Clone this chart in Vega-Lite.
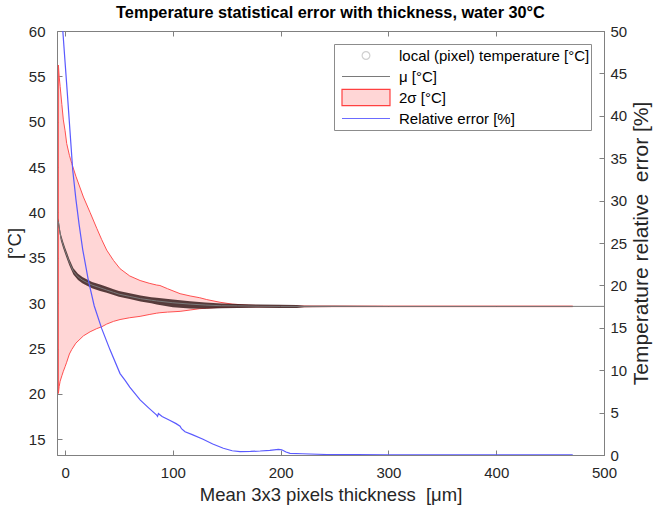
{
  "$schema": "https://vega.github.io/schema/vega-lite/v6.json",
  "width": 547,
  "height": 424,
  "autosize": "none",
  "padding": {"left": 57, "top": 31, "right": 53, "bottom": 58},
  "background": "white",
  "title": {"text": "Temperature statistical error with thickness, water 30°C", "fontSize": 16.3, "fontWeight": "bold", "color": "#000000", "offset": 3},
  "config": {
    "font": "Liberation Sans",
    "view": {"stroke": "#808080", "strokeWidth": 1},
    "axis": {"domainColor": "#808080", "tickColor": "#808080", "labelColor": "#262626", "titleColor": "#262626", "labelFontSize": 15, "titleFontSize": 18.5, "titleFontWeight": "normal", "grid": false, "tickSize": -5, "labelFlush": false}
  },
  "datasets": {
    "band": [
      {"x": -6.2, "upper": 56.25, "lower": 20.05},
      {"x": -5.5, "upper": 55.0, "lower": 20.8},
      {"x": -4.6, "upper": 53.9, "lower": 21.4},
      {"x": -3, "upper": 51.9, "lower": 22.0},
      {"x": -1.6, "upper": 50.2, "lower": 22.5},
      {"x": 0, "upper": 49.0, "lower": 23.0},
      {"x": 1.5, "upper": 47.6, "lower": 23.5},
      {"x": 4, "upper": 46.3, "lower": 24.4},
      {"x": 6.2, "upper": 45.4, "lower": 24.9},
      {"x": 10, "upper": 44.0, "lower": 25.6},
      {"x": 17, "upper": 41.7, "lower": 26.4},
      {"x": 23.2, "upper": 40.0, "lower": 26.85},
      {"x": 29.4, "upper": 38.25, "lower": 27.2},
      {"x": 34, "upper": 37.0, "lower": 27.4},
      {"x": 38.6, "upper": 35.85, "lower": 27.7},
      {"x": 45, "upper": 34.7, "lower": 28.0},
      {"x": 51, "upper": 33.8, "lower": 28.2},
      {"x": 60, "upper": 33.0, "lower": 28.4},
      {"x": 69.6, "upper": 32.5, "lower": 28.55},
      {"x": 78, "upper": 32.2, "lower": 28.75},
      {"x": 85, "upper": 32.0, "lower": 28.9},
      {"x": 88, "upper": 31.95, "lower": 28.95},
      {"x": 95, "upper": 31.6, "lower": 29.02},
      {"x": 106.7, "upper": 31.05, "lower": 29.1},
      {"x": 116, "upper": 30.8, "lower": 29.25},
      {"x": 125, "upper": 30.6, "lower": 29.4},
      {"x": 131.4, "upper": 30.4, "lower": 29.45},
      {"x": 143.8, "upper": 30.1, "lower": 29.55},
      {"x": 155, "upper": 29.9, "lower": 29.58},
      {"x": 170, "upper": 29.78, "lower": 29.6},
      {"x": 190, "upper": 29.72, "lower": 29.6},
      {"x": 210, "upper": 29.7, "lower": 29.6},
      {"x": 230, "upper": 29.68, "lower": 29.62},
      {"x": 300, "upper": 29.68, "lower": 29.62},
      {"x": 400, "upper": 29.68, "lower": 29.62},
      {"x": 471, "upper": 29.68, "lower": 29.62}
    ],
    "scatter": [
      {"x": -6.2, "sc_lo": 38.65, "sc_hi": 39.35},
      {"x": -5, "sc_lo": 37.65, "sc_hi": 38.35},
      {"x": -4, "sc_lo": 36.95, "sc_hi": 37.65},
      {"x": -2, "sc_lo": 36.15, "sc_hi": 36.85},
      {"x": 0, "sc_lo": 35.45, "sc_hi": 36.15},
      {"x": 2, "sc_lo": 34.8, "sc_hi": 35.5},
      {"x": 4, "sc_lo": 34.15, "sc_hi": 34.85},
      {"x": 7.7, "sc_lo": 33.15, "sc_hi": 33.85},
      {"x": 12, "sc_lo": 32.55, "sc_hi": 33.25},
      {"x": 16, "sc_lo": 32.2, "sc_hi": 32.9},
      {"x": 20, "sc_lo": 31.95, "sc_hi": 32.65},
      {"x": 25, "sc_lo": 31.65, "sc_hi": 32.35},
      {"x": 32.5, "sc_lo": 31.35, "sc_hi": 32.05},
      {"x": 38.6, "sc_lo": 31.15, "sc_hi": 31.8},
      {"x": 45, "sc_lo": 30.9, "sc_hi": 31.55},
      {"x": 50, "sc_lo": 30.7, "sc_hi": 31.35},
      {"x": 60, "sc_lo": 30.45, "sc_hi": 31.1},
      {"x": 70, "sc_lo": 30.2, "sc_hi": 30.85},
      {"x": 80, "sc_lo": 30.0, "sc_hi": 30.65},
      {"x": 85, "sc_lo": 29.85, "sc_hi": 30.6},
      {"x": 100, "sc_lo": 29.55, "sc_hi": 30.4},
      {"x": 116, "sc_lo": 29.42, "sc_hi": 30.22},
      {"x": 130, "sc_lo": 29.4, "sc_hi": 30.08},
      {"x": 145, "sc_lo": 29.45, "sc_hi": 29.97},
      {"x": 160, "sc_lo": 29.48, "sc_hi": 29.9},
      {"x": 180, "sc_lo": 29.5, "sc_hi": 29.85},
      {"x": 200, "sc_lo": 29.48, "sc_hi": 29.82},
      {"x": 215, "sc_lo": 29.48, "sc_hi": 29.8},
      {"x": 222, "sc_lo": 29.55, "sc_hi": 29.72},
      {"x": 250, "sc_lo": 29.58, "sc_hi": 29.71},
      {"x": 300, "sc_lo": 29.6, "sc_hi": 29.7},
      {"x": 400, "sc_lo": 29.6, "sc_hi": 29.7},
      {"x": 471, "sc_lo": 29.6, "sc_hi": 29.7}
    ],
    "mu": [
      {"x": -6.2, "mean": 39.0},
      {"x": -5, "mean": 38.0},
      {"x": -4, "mean": 37.3},
      {"x": -2, "mean": 36.5},
      {"x": 0, "mean": 35.8},
      {"x": 2, "mean": 35.15},
      {"x": 4, "mean": 34.5},
      {"x": 7.7, "mean": 33.5},
      {"x": 12, "mean": 32.9},
      {"x": 16, "mean": 32.55},
      {"x": 20, "mean": 32.3},
      {"x": 25, "mean": 32.0},
      {"x": 32.5, "mean": 31.7},
      {"x": 38.6, "mean": 31.45},
      {"x": 45, "mean": 31.2},
      {"x": 50, "mean": 31.0},
      {"x": 60, "mean": 30.75},
      {"x": 70, "mean": 30.5},
      {"x": 80, "mean": 30.33},
      {"x": 85, "mean": 30.25},
      {"x": 100, "mean": 30.05},
      {"x": 116, "mean": 29.9},
      {"x": 130, "mean": 29.8},
      {"x": 145, "mean": 29.72},
      {"x": 160, "mean": 29.7},
      {"x": 180, "mean": 29.67},
      {"x": 200, "mean": 29.65},
      {"x": 300, "mean": 29.65},
      {"x": 400, "mean": 29.65},
      {"x": 500, "mean": 29.65}
    ],
    "err": [
      {"x": -6.2, "err": 57.5},
      {"x": -4, "err": 53.6},
      {"x": -2.1, "err": 50.0},
      {"x": 0, "err": 46.3},
      {"x": 2, "err": 42.8},
      {"x": 4, "err": 39.2},
      {"x": 7.1, "err": 33.6},
      {"x": 10, "err": 30.2},
      {"x": 13, "err": 27.2},
      {"x": 16.4, "err": 24.2},
      {"x": 21.6, "err": 20.6},
      {"x": 27, "err": 17.6},
      {"x": 34, "err": 14.9},
      {"x": 41.7, "err": 12.4},
      {"x": 51, "err": 9.6},
      {"x": 55.7, "err": 8.8},
      {"x": 60, "err": 8.0},
      {"x": 69.6, "err": 6.5},
      {"x": 78, "err": 5.5},
      {"x": 85, "err": 4.7},
      {"x": 85.8, "err": 4.55},
      {"x": 86.6, "err": 4.9},
      {"x": 90, "err": 4.55},
      {"x": 97, "err": 4.1},
      {"x": 103, "err": 3.7},
      {"x": 106.7, "err": 3.4},
      {"x": 108, "err": 3.1},
      {"x": 111.3, "err": 2.75},
      {"x": 118, "err": 2.4},
      {"x": 128, "err": 1.85},
      {"x": 137, "err": 1.3},
      {"x": 146.8, "err": 0.8},
      {"x": 155, "err": 0.5},
      {"x": 162.3, "err": 0.4},
      {"x": 172, "err": 0.42},
      {"x": 181, "err": 0.47},
      {"x": 190, "err": 0.55},
      {"x": 197.9, "err": 0.67},
      {"x": 201, "err": 0.62},
      {"x": 205, "err": 0.35},
      {"x": 208.7, "err": 0.2},
      {"x": 220, "err": 0.15},
      {"x": 242.7, "err": 0.06},
      {"x": 270, "err": 0.04},
      {"x": 300, "err": 0.03},
      {"x": 350, "err": 0.03},
      {"x": 400, "err": 0.03},
      {"x": 450, "err": 0.03},
      {"x": 471, "err": 0.03}
    ]
  },
  "layer": [
    {
      "layer": [
        {
          "data": {"name": "band"},
          "mark": {"type": "area", "fill": "#ffd6d6", "stroke": "#ff5050", "strokeWidth": 1, "clip": true},
          "encoding": {
            "x": {"field": "x", "type": "quantitative", "scale": {"domain": [-7.5, 500], "nice": false, "zero": false}, "axis": {"values": [0, 100, 200, 300, 400, 500], "title": "Mean 3x3 pixels thickness\u00a0 [μm]", "labelPadding": 15, "titlePadding": 5}},
            "y": {"field": "upper", "type": "quantitative", "scale": {"domain": [13.27, 60], "nice": false, "zero": false}, "axis": {"values": [15, 20, 25, 30, 35, 40, 45, 50, 55, 60], "title": "[°C]", "labelPadding": 17, "titlePadding": 4}},
            "y2": {"field": "lower"}
          }
        },
        {
          "data": {"name": "scatter"},
          "mark": {"type": "area", "fill": "#3a2020", "opacity": 0.85, "clip": true},
          "encoding": {
            "x": {"field": "x", "type": "quantitative", "scale": {"domain": [-7.5, 500], "nice": false, "zero": false}, "axis": {"values": [0, 100, 200, 300, 400, 500], "title": "Mean 3x3 pixels thickness\u00a0 [μm]", "labelPadding": 15, "titlePadding": 5}},
            "y": {"field": "sc_lo", "type": "quantitative", "scale": {"domain": [13.27, 60], "nice": false, "zero": false}, "axis": {"values": [15, 20, 25, 30, 35, 40, 45, 50, 55, 60], "title": "[°C]", "labelPadding": 17, "titlePadding": 4}},
            "y2": {"field": "sc_hi"}
          }
        },
        {
          "data": {"name": "mu"},
          "mark": {"type": "line", "strokeWidth": 1, "clip": true},
          "encoding": {
            "x": {"field": "x", "type": "quantitative", "scale": {"domain": [-7.5, 500], "nice": false, "zero": false}, "axis": {"values": [0, 100, 200, 300, 400, 500], "title": "Mean 3x3 pixels thickness\u00a0 [μm]", "labelPadding": 15, "titlePadding": 5}},
            "y": {"field": "mean", "type": "quantitative", "scale": {"domain": [13.27, 60], "nice": false, "zero": false}, "axis": {"values": [15, 20, 25, 30, 35, 40, 45, 50, 55, 60], "title": "[°C]", "labelPadding": 17, "titlePadding": 4}},
            "color": {
              "datum": "μ [°C]",
              "type": "nominal",
              "scale": {"domain": ["local (pixel) temperature [°C]", "μ [°C]", "2σ [°C]", "Relative error [%]"], "range": ["#d0d0d0", "#7a7a7a", "#ff4040", "#6b6bff"]},
              "legend": {
                "title": null,
                "orient": "top-right",
                "offset": 13,
                "fillColor": "white",
                "strokeColor": "#8c8c8c",
                "padding": 1,
                "rowPadding": 0,
                "clipHeight": 21,
                "labelFontSize": 15,
                "labelLimit": 400,
                "labelColor": "#000000",
                "labelOffset": 8,
                "symbolOffset": 6,
                "symbolSize": 2304,
                "symbolType": "stroke",
                "symbolStrokeWidth": 1.2,
                "encode": {
                  "symbols": {
                    "update": {
                      "shape": {"signal": "datum.value == '2σ [°C]' ? 'M-1,-0.34H1V0.34H-1Z' : datum.value == 'local (pixel) temperature [°C]' ? 'circle' : 'stroke'"},
                      "size": {"signal": "datum.value == 'local (pixel) temperature [°C]' ? 60 : 2304"},
                      "fill": {"signal": "datum.value == '2σ [°C]' ? '#ffd6d6' : 'transparent'"},
                      "stroke": {"signal": "datum.value == '2σ [°C]' ? '#ff4040' : datum.value == 'μ [°C]' ? '#606060' : datum.value == 'Relative error [%]' ? '#6b6bff' : '#dcdcdc'"},
                      "strokeWidth": {"value": 1.2},
                      "opacity": {"value": 1}
                    }
                  }
                }
              }
            }
          }
        }
      ]
    },
    {
      "data": {"name": "err"},
      "mark": {"type": "line", "color": "#5a5aff", "strokeWidth": 1.2, "clip": true},
      "encoding": {
        "x": {"field": "x", "type": "quantitative", "scale": {"domain": [-7.5, 500], "nice": false, "zero": false}, "axis": {"orient": "top", "labels": false, "title": null, "domain": false, "values": [0, 100, 200, 300, 400, 500]}},
        "y": {"field": "err", "type": "quantitative", "scale": {"domain": [0, 50], "nice": false, "zero": false}, "axis": {"orient": "right", "values": [0, 5, 10, 15, 20, 25, 30, 35, 40, 45, 50], "title": "Temperature relative\u00a0 error [%]", "titleFontSize": 21, "titleAngle": -90, "titleBaseline": "top", "labelPadding": 11, "titlePadding": 4}}
      }
    }
  ],
  "resolve": {"scale": {"y": "independent"}, "axis": {"x": "independent"}}
}
